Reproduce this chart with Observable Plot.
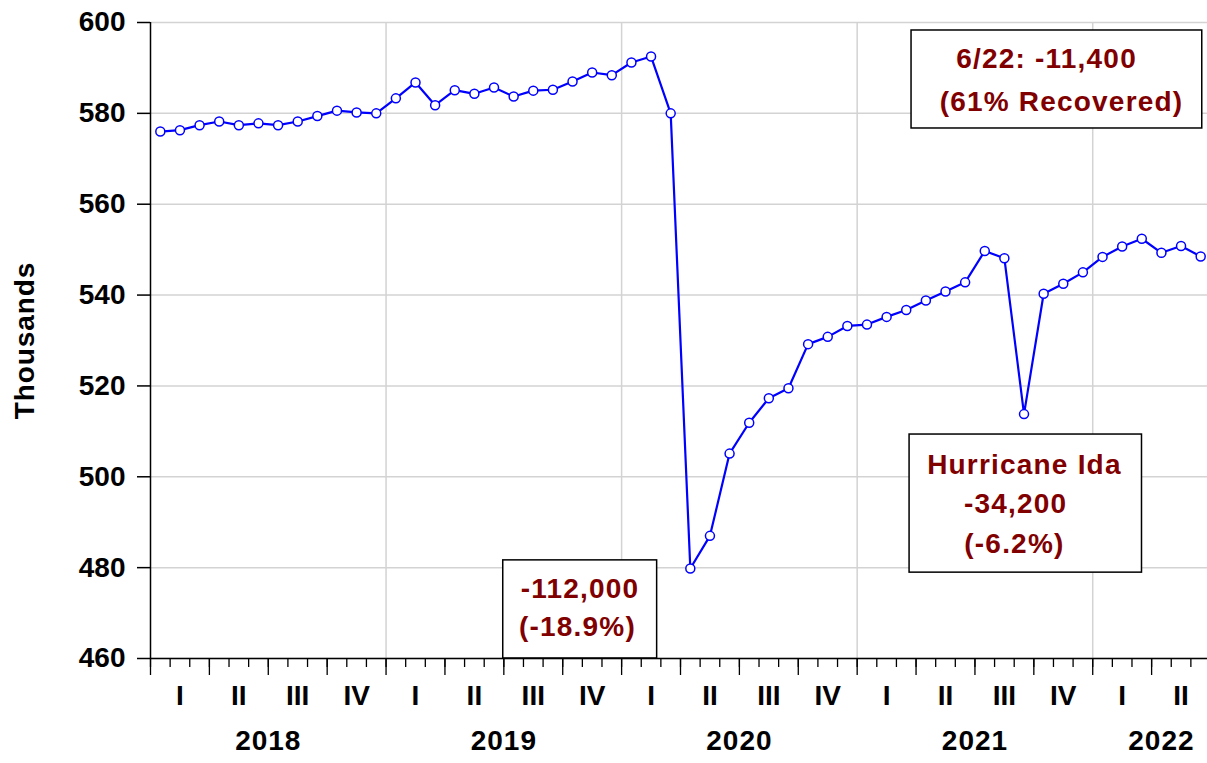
<!DOCTYPE html>
<html>
<head>
<meta charset="utf-8">
<script src="https://cdn.jsdelivr.net/npm/d3@7"></script>
<script src="https://cdn.jsdelivr.net/npm/@observablehq/plot@0.6"></script>
<style>
  html, body { margin: 0; padding: 0; background: white; }
</style>
</head>
<body>
<div id="chart"></div>
<script>
// Monthly values, Jan 2018 – Jun 2022 (thousands)
const values2018 = [576.0, 576.3, 577.4, 578.2, 577.4, 577.8, 577.4, 578.2, 579.4, 580.6, 580.2, 580.0];
const values2019 = [583.3, 586.8, 581.8, 585.1, 584.3, 585.7, 583.7, 585.0, 585.2, 587.0, 589.0, 588.4];
const values2020 = [591.2, 592.5, 580.0, 479.8, 487.0, 505.1, 511.9, 517.3, 519.5, 529.2, 530.8, 533.2];
const values2021 = [533.5, 535.2, 536.7, 538.8, 540.8, 542.8, 549.7, 548.1, 513.8, 540.3, 542.5, 545.0];
const values2022 = [548.4, 550.7, 552.4, 549.3, 550.8, 548.5];

const years = ["2018", "2019", "2020", "2021", "2022"];
const quarterLabels = ["I", "II", "III", "IV"];
const yTicks = [460, 480, 500, 520, 540, 560, 580, 600];
const yAxisTitle = "Thousands";

// Annotation boxes (month index, thousands)
const boxes = [
  {x1: 38.77, x2: 53.58, y1: 576.67, y2: 598.24},
  {x1: 38.67, x2: 50.51, y1: 478.9, y2: 509.3},
  {x1: 17.97, x2: 25.81, y1: 460, y2: 481.6}
];
const annotationLines = [
  {x: 45.65, y: 591.9, text: "6/22: -11,400"},
  {x: 46.41, y: 582.5, text: "(61% Recovered)"},
  {x: 44.52, y: 502.5, text: "Hurricane Ida"},
  {x: 44.07, y: 494.1, text: "-34,200"},
  {x: 44.01, y: 485.3, text: "(-6.2%)"},
  {x: 21.88, y: 475.2, text: "-112,000"},
  {x: 21.75, y: 467.0, text: "(-18.9%)"}
];

const yearValues = [values2018, values2019, values2020, values2021, values2022];
const data = [];
yearValues.forEach((arr, yi) => arr.forEach((v, m) => data.push({i: yi * 12 + m + 0.5, v})));
const nMonths = 54;

const yearStarts = years.map((y, yi) => yi * 12).filter(d => d > 0);
const yearLabelData = yearValues.map((arr, yi) => ({
  x: yi * 12 + arr.length / 2 + (arr.length < 12 ? 0.5 : 0),
  text: years[yi]
}));
const quarterCenters = d3.range(0, nMonths, 3).map(d => d + 1.5);

const chart = Plot.plot({
  width: 1207,
  height: 763,
  marginLeft: 150,
  marginRight: 0,
  marginTop: 22,
  marginBottom: 105,
  style: {fontFamily: "'Liberation Sans', Arial, sans-serif", fontWeight: "bold", background: "white", color: "black"},
  x: {domain: [0, nMonths], range: [150, 1210]},
  y: {domain: [460, 600]},
  marks: [
    Plot.ruleY(yTicks, {stroke: "#d3d3d3", strokeWidth: 1.5}),
    Plot.ruleX(yearStarts, {stroke: "#d3d3d3", strokeWidth: 1.5}),
    Plot.rect(boxes, {x1: "x1", x2: "x2", y1: "y1", y2: "y2", fill: "white", stroke: "black", strokeWidth: 1.5}),
    Plot.text(annotationLines, {x: "x", y: "y", text: "text", fill: "#800000", fontSize: 28, fontWeight: "bold"}),
    Plot.line(data, {x: "i", y: "v", stroke: "#0000ff", strokeWidth: 2.2}),
    Plot.dot(data, {x: "i", y: "v", r: 4.5, fill: "white", stroke: "#0000ff", strokeWidth: 1.5}),
    Plot.ruleX([0], {stroke: "black", strokeWidth: 1.5}),
    Plot.ruleY([460], {stroke: "black", strokeWidth: 1.5}),
    Plot.axisY({ticks: yTicks, tickSize: 13, tickPadding: 12, fontSize: 28, label: null, strokeWidth: 1.5}),
    Plot.axisX({ticks: d3.range(0, nMonths + 1, 3), tickSize: 17, tickFormat: () => "", label: null, strokeWidth: 1.3}),
    Plot.axisX({ticks: d3.range(0, nMonths + 1), tickSize: 9, tickFormat: () => "", label: null, strokeWidth: 1.3}),
    Plot.axisX({ticks: quarterCenters, tickSize: 0, tickPadding: 27, fontSize: 28, label: null,
      tickFormat: d => quarterLabels[Math.floor(d / 3) % 4]}),
    Plot.text(yearLabelData, {x: "x", text: "text", frameAnchor: "bottom", dy: 91, fontSize: 28, fontWeight: "bold"}),
    Plot.text([yAxisTitle], {frameAnchor: "left", textAnchor: "middle", rotate: -90, dx: -125, fontSize: 28, fontWeight: "bold"})
  ]
});
// slightly wider letter spacing, as in the reference's text
const spacing = new Map([
  ["#800000", "1.2px"]
]);
chart.querySelectorAll("text").forEach(t => {
  const fill = t.getAttribute("fill") || (t.parentNode && t.parentNode.getAttribute && t.parentNode.getAttribute("fill"));
  if (fill === "#800000") t.style.letterSpacing = "1.2px";
  const txt = t.textContent;
  if (years.includes(txt)) t.style.letterSpacing = "1px";
  if (txt === yAxisTitle) t.style.letterSpacing = "0.9px";
});
document.getElementById("chart").appendChild(chart);
</script>
</body>
</html>
